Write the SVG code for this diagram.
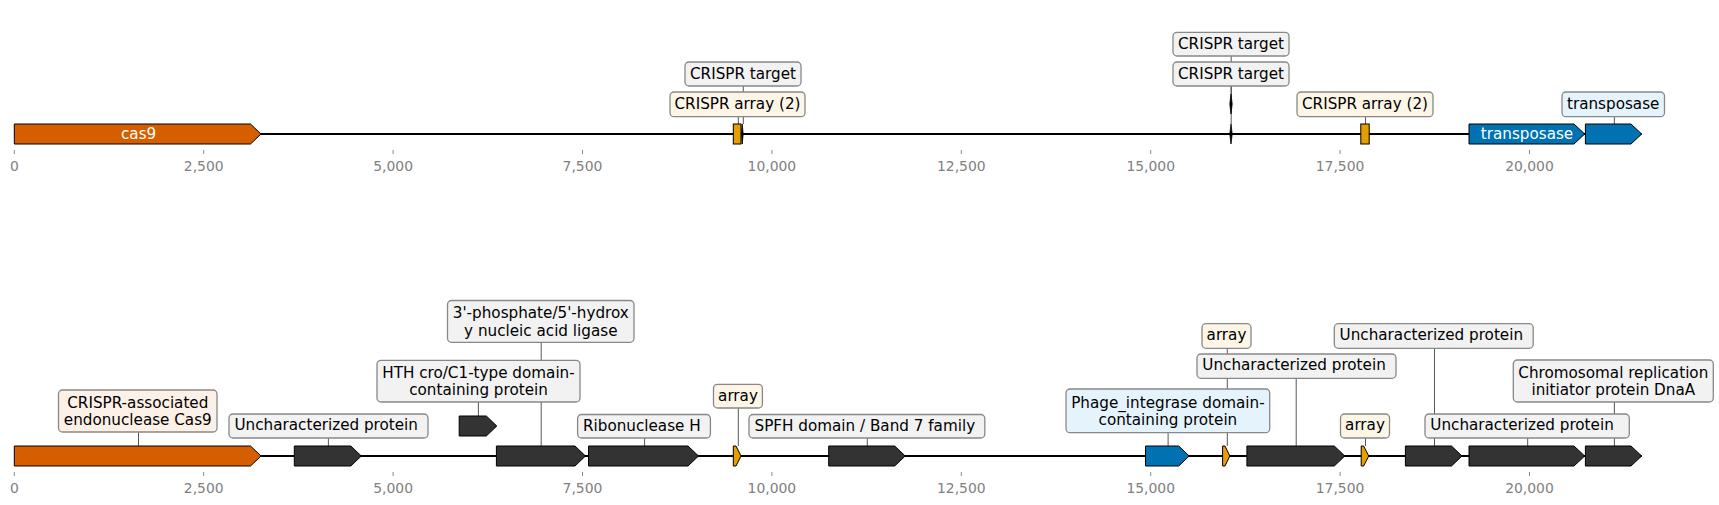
<svg xmlns="http://www.w3.org/2000/svg" width="1719" height="505" viewBox="0 0 1719 505">
<style>
text{font-family:"DejaVu Sans","Liberation Sans",sans-serif}
.lbl{font-size:15.2px;fill:#000}
.mid{text-anchor:middle}
.wt{font-size:15.2px;fill:#fff;text-anchor:middle}
.box{stroke:#888;stroke-width:1.3}
.g{fill:#f2f2f2}.c{fill:#fdf6e6}.p{fill:#fdf0e6}.b{fill:#e5f4fc}
.lead{stroke:#444;stroke-width:0.9;fill:none}
.tick{stroke:#888;stroke-width:1}
.tl{font-size:13.9px;fill:#808080;text-anchor:middle}
.gene{stroke:#000;stroke-width:1}
.or{fill:#d55e00}.ye{fill:#e69f00}.bl{fill:#0072b2}.dk{fill:#333}
.sl{fill:#000;stroke:#000;stroke-width:0.8}
.track{stroke:#000;stroke-width:1.8}
</style>
<rect width="1719" height="505" fill="#fff"/>
<g id="axes">
<line class="track" x1="14.3" y1="134" x2="1641.7" y2="134"/>
<line class="track" x1="14.3" y1="456" x2="1641.7" y2="456"/>
<g class="tick">
<line x1="14.3" y1="150" x2="14.3" y2="154"/><line x1="203.7" y1="150" x2="203.7" y2="154"/><line x1="393.1" y1="150" x2="393.1" y2="154"/><line x1="582.5" y1="150" x2="582.5" y2="154"/><line x1="771.9" y1="150" x2="771.9" y2="154"/><line x1="961.3" y1="150" x2="961.3" y2="154"/><line x1="1150.7" y1="150" x2="1150.7" y2="154"/><line x1="1340.1" y1="150" x2="1340.1" y2="154"/><line x1="1529.5" y1="150" x2="1529.5" y2="154"/>
<line x1="14.3" y1="472" x2="14.3" y2="476"/><line x1="203.7" y1="472" x2="203.7" y2="476"/><line x1="393.1" y1="472" x2="393.1" y2="476"/><line x1="582.5" y1="472" x2="582.5" y2="476"/><line x1="771.9" y1="472" x2="771.9" y2="476"/><line x1="961.3" y1="472" x2="961.3" y2="476"/><line x1="1150.7" y1="472" x2="1150.7" y2="476"/><line x1="1340.1" y1="472" x2="1340.1" y2="476"/><line x1="1529.5" y1="472" x2="1529.5" y2="476"/>
</g>
<g class="tl">
<text x="14.3" y="171">0</text><text x="203.7" y="171">2,500</text><text x="393.1" y="171">5,000</text><text x="582.5" y="171">7,500</text><text x="771.9" y="171">10,000</text><text x="961.3" y="171">12,500</text><text x="1150.7" y="171">15,000</text><text x="1340.1" y="171">17,500</text><text x="1529.5" y="171">20,000</text>
<text x="14.3" y="493">0</text><text x="203.7" y="493">2,500</text><text x="393.1" y="493">5,000</text><text x="582.5" y="493">7,500</text><text x="771.9" y="493">10,000</text><text x="961.3" y="493">12,500</text><text x="1150.7" y="493">15,000</text><text x="1340.1" y="493">17,500</text><text x="1529.5" y="493">20,000</text>
</g>
</g>
<g id="connectors" class="lead">
<line x1="743.3" y1="86" x2="743.3" y2="124"/>
<line x1="738.3" y1="116.7" x2="738.3" y2="124"/>
<line x1="1231.2" y1="56" x2="1231.2" y2="124"/>
<line x1="1231.2" y1="86" x2="1231.2" y2="94"/>
<line x1="1365.5" y1="116.7" x2="1365.5" y2="124"/>
<line x1="1614.4" y1="116.7" x2="1614.4" y2="124"/>
<line x1="138.5" y1="432" x2="138.5" y2="446"/>
<line x1="328.4" y1="438" x2="328.4" y2="446"/>
<line x1="478.4" y1="402" x2="478.4" y2="416"/>
<line x1="541.2" y1="342" x2="541.2" y2="446"/>
<line x1="644.6" y1="438" x2="644.6" y2="446"/>
<line x1="738.3" y1="408" x2="738.3" y2="446"/>
<line x1="867.3" y1="438" x2="867.3" y2="446"/>
<line x1="1168.1" y1="432.7" x2="1168.1" y2="446"/>
<line x1="1227.3" y1="348.3" x2="1227.3" y2="446"/>
<line x1="1296.2" y1="378.3" x2="1296.2" y2="446"/>
<line x1="1365.5" y1="438" x2="1365.5" y2="446"/>
<line x1="1434.5" y1="348.3" x2="1434.5" y2="446"/>
<line x1="1527.7" y1="438" x2="1527.7" y2="446"/>
<line x1="1614.4" y1="402" x2="1614.4" y2="446"/>
</g>
<g id="top-cas9">
<polygon class="gene or" points="14.3,124 250.5,124 261,134 250.5,144 14.3,144"/>
<text class="wt" x="138.6" y="139">cas9</text>
</g>
<g id="top-array1">
<rect class="gene ye" x="733.3" y="124" width="7.7" height="20"/>
<rect class="box c" x="670" y="92" width="135" height="24.7" rx="4"/>
<text class="lbl mid" x="737.5" y="108.8">CRISPR array (2)</text>
</g>
<g id="top-target1">
<polygon class="sl" points="742.2,124 743.2,134 742.2,144 741.4,134"/>
<rect class="box g" x="685" y="62" width="116" height="24" rx="4"/>
<text class="lbl mid" x="743" y="78.5">CRISPR target</text>
</g>
<g id="top-target2">
<polygon class="sl" points="1231,124 1232.2,134 1231,144 1229.8,134"/>
<rect class="box g" x="1173" y="32.3" width="116" height="23.7" rx="4"/>
<text class="lbl mid" x="1231" y="48.7">CRISPR target</text>
</g>
<g id="top-target3">
<polygon class="sl" points="1231,94 1232.2,104 1231,114 1229.8,104"/>
<rect class="box g" x="1173" y="62" width="116" height="24" rx="4"/>
<text class="lbl mid" x="1231" y="78.5">CRISPR target</text>
</g>
<g id="top-array2">
<rect class="gene ye" x="1360.8" y="124" width="8.4" height="20"/>
<rect class="box c" x="1297" y="92" width="136" height="24.7" rx="4"/>
<text class="lbl mid" x="1365" y="108.8">CRISPR array (2)</text>
</g>
<g id="top-transposase1">
<polygon class="gene bl" points="1469,124 1574,124 1584.7,134 1574,144 1469,144"/>
<text class="wt" x="1527" y="139">transposase</text>
</g>
<g id="top-transposase2">
<polygon class="gene bl" points="1585.4,124 1631,124 1641.7,134 1631,144 1585.4,144"/>
<rect class="box b" x="1562" y="92" width="102.5" height="24.7" rx="4"/>
<text class="lbl mid" x="1613.2" y="108.8">transposase</text>
</g>
<g id="bot-cas9">
<polygon class="gene or" points="14.3,446 250.5,446 261,456 250.5,466 14.3,466"/>
<rect class="box p" x="58.5" y="390" width="158.5" height="42" rx="4"/>
<text class="lbl mid" x="137.8" y="407.8">CRISPR-associated</text>
<text class="lbl mid" x="137.8" y="425">endonuclease Cas9</text>
</g>
<g id="bot-unch1">
<polygon class="gene dk" points="294.3,446 350.8,446 361.3,456 350.8,466 294.3,466"/>
<rect class="box g" x="229" y="414" width="199" height="24" rx="4"/>
<text class="lbl" x="234.5" y="430.4">Uncharacterized protein</text>
</g>
<g id="bot-hth">
<polygon class="gene dk" points="459.2,416 486.3,416 496.8,426 486.3,436 459.2,436"/>
<rect class="box g" x="377" y="360.3" width="203" height="41.7" rx="4"/>
<text class="lbl mid" x="478.5" y="378">HTH cro/C1-type domain-</text>
<text class="lbl mid" x="478.5" y="395.3">containing protein</text>
</g>
<g id="bot-ligase">
<polygon class="gene dk" points="496.4,446 575,446 585.5,456 575,466 496.4,466"/>
<rect class="box g" x="447.5" y="300.5" width="186.5" height="41.8" rx="4"/>
<text class="lbl mid" x="540.8" y="318.3">3'-phosphate/5'-hydrox</text>
<text class="lbl mid" x="540.8" y="335.5">y nucleic acid ligase</text>
</g>
<g id="bot-rnaseh">
<polygon class="gene dk" points="588.5,446 688,446 698.5,456 688,466 588.5,466"/>
<rect class="box g" x="577.6" y="414.5" width="132.8" height="23.5" rx="4"/>
<text class="lbl" x="583" y="430.8">Ribonuclease H</text>
</g>
<g id="bot-array1">
<polygon class="gene ye" points="733.3,446 736,446 741,456 736,466 733.3,466"/>
<rect class="box c" x="713.5" y="384.3" width="48.9" height="23.7" rx="4"/>
<text class="lbl mid" x="738" y="400.7">array</text>
</g>
<g id="bot-spfh">
<polygon class="gene dk" points="828.7,446 894.7,446 905.2,456 894.7,466 828.7,466"/>
<rect class="box g" x="749" y="414.5" width="235.8" height="23.5" rx="4"/>
<text class="lbl" x="754.5" y="430.8">SPFH domain / Band 7 family</text>
</g>
<g id="bot-phage">
<polygon class="gene bl" points="1145.5,446 1178.7,446 1189.2,456 1178.7,466 1145.5,466"/>
<rect class="box b" x="1066" y="389" width="203.7" height="43.7" rx="4"/>
<text class="lbl mid" x="1167.9" y="407.5">Phage_integrase domain-</text>
<text class="lbl mid" x="1167.9" y="424.7">containing protein</text>
</g>
<g id="bot-array2">
<polygon class="gene ye" points="1222.6,446 1225,446 1229.8,456 1225,466 1222.6,466"/>
<rect class="box c" x="1202" y="323.7" width="49" height="24.6" rx="4"/>
<text class="lbl mid" x="1226.5" y="340.4">array</text>
</g>
<g id="bot-unch2">
<polygon class="gene dk" points="1246.9,446 1334.3,446 1344.8,456 1334.3,466 1246.9,466"/>
<rect class="box g" x="1197" y="354" width="199" height="24.3" rx="4"/>
<text class="lbl" x="1202.3" y="370.4">Uncharacterized protein</text>
</g>
<g id="bot-array3">
<polygon class="gene ye" points="1361.2,446 1363.6,446 1368.8,456 1363.6,466 1361.2,466"/>
<rect class="box c" x="1340.5" y="414" width="49" height="24" rx="4"/>
<text class="lbl mid" x="1365" y="430.4">array</text>
</g>
<g id="bot-unch3">
<polygon class="gene dk" points="1405.4,446 1451.5,446 1462,456 1451.5,466 1405.4,466"/>
<rect class="box g" x="1334.3" y="323.7" width="198.9" height="24.6" rx="4"/>
<text class="lbl" x="1339.6" y="340.4">Uncharacterized protein</text>
</g>
<g id="bot-unch4">
<polygon class="gene dk" points="1469,446 1574,446 1584.7,456 1574,466 1469,466"/>
<rect class="box g" x="1425" y="414" width="204.3" height="24" rx="4"/>
<text class="lbl" x="1430.3" y="430.4">Uncharacterized protein</text>
</g>
<g id="bot-dnaa">
<polygon class="gene dk" points="1585.4,446 1631,446 1641.7,456 1631,466 1585.4,466"/>
<rect class="box g" x="1513.3" y="360" width="200" height="42" rx="4"/>
<text class="lbl mid" x="1613.3" y="377.8">Chromosomal replication</text>
<text class="lbl mid" x="1613.3" y="395">initiator protein DnaA</text>
</g>
</svg>
